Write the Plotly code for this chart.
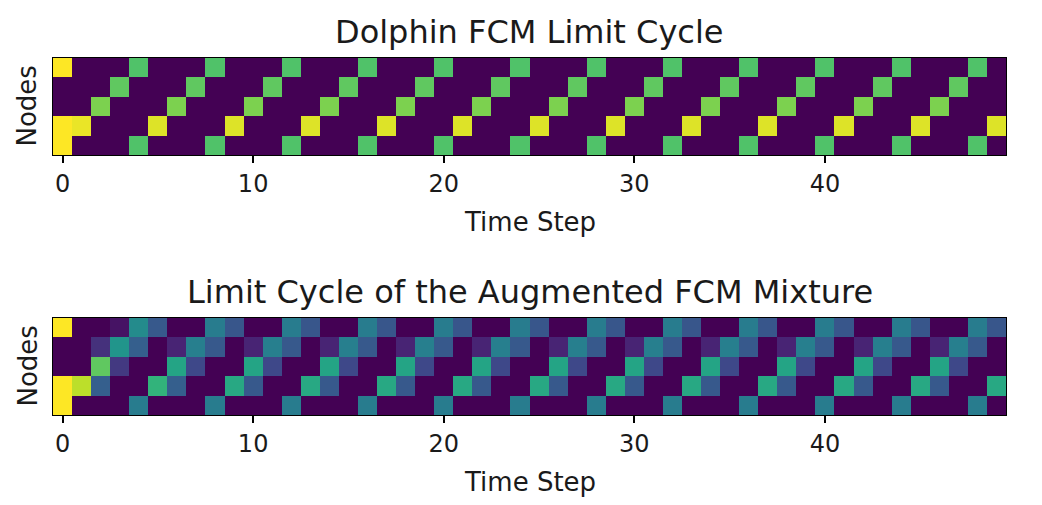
import plotly.graph_objects as go

# Nodes x time step states (5 nodes, 50 steps)
time_steps = list(range(50))
nodes = [0, 1, 2, 3, 4]

# Dolphin FCM limit cycle
dolphin_n0 = [1, 0, 0, 0, .72, 0, 0, 0, .72, 0, 0, 0, .72, 0, 0, 0, .72, 0, 0, 0, .72, 0, 0, 0, .72,
              0, 0, 0, .72, 0, 0, 0, .72, 0, 0, 0, .72, 0, 0, 0, .72, 0, 0, 0, .72, 0, 0, 0, .72, 0]
dolphin_n1 = [0, 0, 0, .75, 0, 0, 0, .75, 0, 0, 0, .75, 0, 0, 0, .75, 0, 0, 0, .75, 0, 0, 0, .75, 0,
              0, 0, .75, 0, 0, 0, .75, 0, 0, 0, .75, 0, 0, 0, .75, 0, 0, 0, .75, 0, 0, 0, .75, 0, 0]
dolphin_n2 = [0, 0, .8, 0, 0, 0, .8, 0, 0, 0, .8, 0, 0, 0, .8, 0, 0, 0, .8, 0, 0, 0, .8, 0, 0,
              0, .8, 0, 0, 0, .8, 0, 0, 0, .8, 0, 0, 0, .8, 0, 0, 0, .8, 0, 0, 0, .8, 0, 0, 0]
dolphin_n3 = [1, .97, 0, 0, 0, .95, 0, 0, 0, .95, 0, 0, 0, .95, 0, 0, 0, .95, 0, 0, 0, .95, 0, 0, 0,
              .95, 0, 0, 0, .95, 0, 0, 0, .95, 0, 0, 0, .95, 0, 0, 0, .95, 0, 0, 0, .95, 0, 0, 0, .95]
dolphin_n4 = [1, 0, 0, 0, .72, 0, 0, 0, .72, 0, 0, 0, .72, 0, 0, 0, .72, 0, 0, 0, .72, 0, 0, 0, .72,
              0, 0, 0, .72, 0, 0, 0, .72, 0, 0, 0, .72, 0, 0, 0, .72, 0, 0, 0, .72, 0, 0, 0, .72, 0]

# Augmented FCM mixture limit cycle
mix_n0 = [1, 0, 0, .05, .48, .28, 0, 0, .42, .27, 0, 0, .42, .27, 0, 0, .42, .27, 0, 0, .42, .27, 0, 0, .42,
          .27, 0, 0, .42, .27, 0, 0, .42, .27, 0, 0, .42, .27, 0, 0, .42, .27, 0, 0, .42, .27, 0, 0, .42, .27]
mix_n1 = [0, 0, .14, .52, .3, 0, .1, .43, .28, 0, .1, .43, .28, 0, .1, .43, .28, 0, .1, .43, .28, 0, .1, .43, .28,
          0, .1, .43, .28, 0, .1, .43, .28, 0, .1, .43, .28, 0, .1, .43, .28, 0, .1, .43, .28, 0, .1, .43, .28, 0]
mix_n2 = [0, 0, .75, .17, 0, 0, .58, .22, 0, 0, .58, .22, 0, 0, .58, .22, 0, 0, .58, .22, 0, 0, .58, .22, 0,
          0, .58, .22, 0, 0, .58, .22, 0, 0, .58, .22, 0, 0, .58, .22, 0, 0, .58, .22, 0, 0, .58, .22, 0, 0]
mix_n3 = [1, .9, .3, 0, 0, .65, .3, 0, 0, .6, .28, 0, 0, .6, .28, 0, 0, .6, .28, 0, 0, .6, .28, 0, 0,
          .6, .28, 0, 0, .6, .28, 0, 0, .6, .28, 0, 0, .6, .28, 0, 0, .6, .28, 0, 0, .6, .28, 0, 0, .6]
mix_n4 = [1, 0, 0, 0, .42, 0, 0, 0, .42, 0, 0, 0, .42, 0, 0, 0, .42, 0, 0, 0, .42, 0, 0, 0, .42,
          0, 0, 0, .42, 0, 0, 0, .42, 0, 0, 0, .42, 0, 0, 0, .42, 0, 0, 0, .42, 0, 0, 0, .42, 0]

xticks = [0, 10, 20, 30, 40]
titles = ["Dolphin FCM Limit Cycle", "Limit Cycle of the Augmented FCM Mixture"]

W, H = 1042, 505
OFF = 8  # the page body margin moves the figure by this much
font = "DejaVu Sans"
txt = "#1a1a1a"

fig = go.Figure()
fig.add_trace(go.Heatmap(z=[dolphin_n0, dolphin_n1, dolphin_n2, dolphin_n3, dolphin_n4],
                         x=time_steps, y=nodes, colorscale="Viridis", zmin=0, zmax=1,
                         showscale=False, xaxis="x", yaxis="y", hoverinfo="skip"))
fig.add_trace(go.Heatmap(z=[mix_n0, mix_n1, mix_n2, mix_n3, mix_n4],
                         x=time_steps, y=nodes, colorscale="Viridis", zmin=0, zmax=1,
                         showscale=False, xaxis="x2", yaxis="y2", hoverinfo="skip"))


def px_x(p):
    return (p - OFF) / W


def px_y(p):
    # pixel from top of the page -> paper coordinate
    return 1 - (p - OFF) / H


xdom = [px_x(53), px_x(1006)]
panels = [(58, 155), (318, 415)]

axis_common = dict(showline=True, linecolor="black", linewidth=1.2, mirror=True,
                   showgrid=False, zeroline=False)
xaxis_common = dict(domain=xdom, range=[-0.5, 49.5], tickvals=xticks,
                    ticks="outside", ticklen=7, tickwidth=1.5, tickcolor="black",
                    tickfont=dict(size=24, family=font, color=txt), **axis_common)

fig.update_layout(
    width=W, height=H, margin=dict(l=0, r=0, t=0, b=0),
    paper_bgcolor="white", plot_bgcolor="white",
    font=dict(family=font, color=txt),
    xaxis=dict(anchor="y", **xaxis_common),
    yaxis=dict(domain=[px_y(panels[0][1]), px_y(panels[0][0])], anchor="x",
               range=[4.5, -0.5], showticklabels=False, ticks="", **axis_common),
    xaxis2=dict(anchor="y2", **xaxis_common),
    yaxis2=dict(domain=[px_y(panels[1][1]), px_y(panels[1][0])], anchor="x2",
                range=[4.5, -0.5], showticklabels=False, ticks="", **axis_common),
)

xmid = (xdom[0] + xdom[1]) / 2
for i, (top, bottom) in enumerate(panels):
    fig.add_annotation(text=titles[i], xref="paper", yref="paper", x=xmid, y=px_y(top - 26),
                       xanchor="center", yanchor="middle", showarrow=False,
                       font=dict(size=32, family=font, color=txt))
    fig.add_annotation(text="Time Step", xref="paper", yref="paper", x=xmid, y=px_y(bottom + 67),
                       xanchor="center", yanchor="middle", showarrow=False,
                       font=dict(size=26, family=font, color=txt))
    fig.add_annotation(text="Nodes", xref="paper", yref="paper", x=px_x(27),
                       y=px_y((top + bottom) / 2), textangle=-90,
                       xanchor="center", yanchor="middle", showarrow=False,
                       font=dict(size=26, family=font, color=txt))

fig.write_html("out.html")
